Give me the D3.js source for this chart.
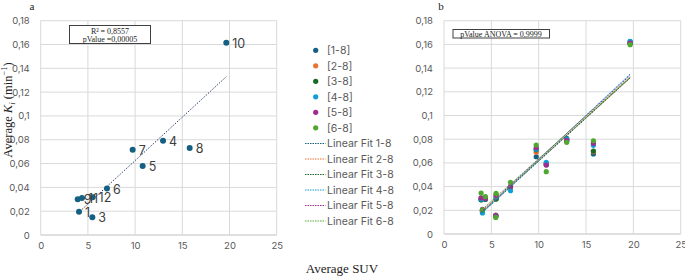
<!DOCTYPE html>
<html>
<head>
<meta charset="utf-8">
<script src="https://cdn.jsdelivr.net/npm/d3@7/dist/d3.min.js"></script>
<style>
  body { margin: 0; background: #fff; }
  svg { display: block; }
  .tick text { font-family: Inter, "Liberation Sans", sans-serif; }
</style>
</head>
<body>
<svg id="chart" width="685" height="276"></svg>
<script>
// patient ids (label order), average SUV (x) and average Ki (y) for panel a
const patientIds = ['1', '3', '4', '5', '6', '7', '8', '9', '10', '11', '12'];
const avgSuv = [4.06, 5.47, 12.96, 10.8, 7.02, 9.74, 15.78, 3.92, 19.66, 4.37, 5.5];
const avgKi = [0.0196, 0.0149, 0.0792, 0.058, 0.039, 0.0716, 0.073, 0.030, 0.1614, 0.031, 0.0317];

// panel b: Ki per frame range, same patients
const rangeNames = ['[1-8]', '[2-8]', '[3-8]', '[4-8]', '[5-8]', '[6-8]'];
const fitNames = ['Linear Fit 1-8', 'Linear Fit 2-8', 'Linear Fit 3-8', 'Linear Fit 4-8', 'Linear Fit 5-8', 'Linear Fit 6-8'];
const ki18 = [0.0195, 0.0155, 0.0808, 0.0595, 0.0390, 0.0652, 0.0675, 0.0290, 0.1623, 0.0292, 0.0298];
const ki28 = [0.0200, 0.0160, 0.0795, 0.0590, 0.0395, 0.0690, 0.0695, 0.0300, 0.1615, 0.0300, 0.0330];
const ki38 = [0.0195, 0.0150, 0.0792, 0.0585, 0.0400, 0.0710, 0.0700, 0.0288, 0.1610, 0.0295, 0.0295];
const ki48 = [0.0178, 0.0158, 0.0800, 0.0605, 0.0365, 0.0715, 0.0748, 0.0295, 0.1625, 0.0298, 0.0312];
const ki58 = [0.0207, 0.0155, 0.0790, 0.0582, 0.0403, 0.0728, 0.0765, 0.0305, 0.1610, 0.0300, 0.0325];
const ki68 = [0.0203, 0.0140, 0.0774, 0.0526, 0.0436, 0.0751, 0.0787, 0.0346, 0.1598, 0.0315, 0.0343];
const rangeKi = [ki18, ki28, ki38, ki48, ki58, ki68];

const xTicks = [0, 5, 10, 15, 20, 25];
const yTicks = [0, 0.02, 0.04, 0.06, 0.08, 0.1, 0.12, 0.14, 0.16, 0.18];

const colors = ['#156082', '#E97132', '#196B24', '#0F9ED5', '#A02B93', '#4EA72E'];
const fmt = v => String(+v.toFixed(2)).replace('.', ',');

const svg = d3.select('#chart');

// least squares fit
function linFit(xs, ys) {
  const mx = d3.mean(xs), my = d3.mean(ys);
  const sxy = d3.sum(xs, (x, i) => (x - mx) * (ys[i] - my));
  const sxx = d3.sum(xs, x => (x - mx) * (x - mx));
  const b = sxy / sxx;
  return x => my + b * (x - mx);
}

function drawPanel(left, right, top, bottom) {
  const x = d3.scaleLinear().domain([0, 25]).range([left, right]);
  const y = d3.scaleLinear().domain([0, 0.18]).range([bottom, top]);
  const g = svg.append('g');

  g.append('g').selectAll('line.h').data(yTicks).join('line')
    .attr('x1', left).attr('x2', right)
    .attr('y1', d => y(d)).attr('y2', d => y(d))
    .attr('stroke', d => d === 0 ? '#bfbfbf' : '#d9d9d9').attr('stroke-width', 1);
  g.append('g').selectAll('line.v').data(xTicks).join('line')
    .attr('x1', d => x(d)).attr('x2', d => x(d))
    .attr('y1', top).attr('y2', bottom)
    .attr('stroke', '#d9d9d9').attr('stroke-width', 1);

  const xAxis = g.append('g').attr('transform', `translate(0,${bottom + 4})`)
    .call(d3.axisBottom(x).tickValues(xTicks).tickSize(0).tickFormat(d3.format('d')));
  const yAxis = g.append('g').attr('transform', `translate(${left - 8},0)`)
    .call(d3.axisLeft(y).tickValues(yTicks).tickSize(0).tickFormat(fmt));
  [xAxis, yAxis].forEach(a => {
    a.select('.domain').remove();
    a.selectAll('text').attr('fill', '#595959').style('font-size', '9.5px');
  });
  return { x, y, g };
}

// ---- panel a
const pa = drawPanel(40.7, 276.7, 20.7, 235);
const fitA = linFit(avgSuv, avgKi);
const [xa0, xa1] = d3.extent(avgSuv);
pa.g.append('line')
  .attr('x1', pa.x(xa0)).attr('y1', pa.y(fitA(xa0)))
  .attr('x2', pa.x(xa1)).attr('y2', pa.y(fitA(xa1)))
  .attr('stroke', '#2b3f6b').attr('stroke-width', 1).attr('stroke-dasharray', '1.5,1.5');
pa.g.selectAll('circle.pt').data(avgSuv).join('circle')
  .attr('cx', d => pa.x(d)).attr('cy', (d, i) => pa.y(avgKi[i]))
  .attr('r', 3).attr('fill', colors[0]);
pa.g.selectAll('text.lbl').data(avgSuv).join('text')
  .attr('x', d => pa.x(d) + 6).attr('y', (d, i) => pa.y(avgKi[i]) + 5)
  .attr('font-family', 'Inter, "Liberation Sans", sans-serif').attr('font-size', 12.5)
  .attr('fill', '#404040').text((d, i) => patientIds[i]);

pa.g.append('rect').attr('x', 69.5).attr('y', 25.5).attr('width', 81).attr('height', 18)
  .attr('fill', '#fff').attr('stroke', '#404040').attr('stroke-width', 1);
const statA = pa.g.append('text').attr('font-family', '"Liberation Serif", serif')
  .attr('font-size', 8).attr('fill', '#222').attr('text-anchor', 'middle');
statA.append('tspan').attr('x', 110).attr('y', 33.5).text('R² = 0,8557');
statA.append('tspan').attr('x', 110).attr('y', 41.5).text('pValue =0,00005');

svg.append('text').attr('x', 32).attr('y', 10).attr('font-family', '"Liberation Serif", serif')
  .attr('font-size', 11).attr('fill', '#222').attr('text-anchor', 'middle').text('a');

const yTitle = svg.append('text').attr('transform', 'translate(12,110) rotate(-90)')
  .attr('text-anchor', 'middle').attr('font-family', '"Liberation Serif", serif')
  .attr('font-size', 12.5).attr('fill', '#222');
yTitle.append('tspan').text('Average ');
yTitle.append('tspan').attr('font-style', 'italic').text('K');
yTitle.append('tspan').attr('font-style', 'italic').attr('font-size', 9).attr('dy', 3).text('i');
yTitle.append('tspan').attr('dy', -3).text(' (min');
yTitle.append('tspan').attr('font-size', 8.5).attr('dy', -5).text('−1');
yTitle.append('tspan').attr('dy', 5).text(')');

// ---- legend
const legend = svg.append('g').attr('font-family', 'Inter, "Liberation Sans", sans-serif')
  .attr('font-size', 10.5).attr('fill', '#595959');
rangeNames.forEach((name, i) => {
  const ly = 50.3 + i * 15.5;
  legend.append('circle').attr('cx', 315.7).attr('cy', ly).attr('r', 2.6).attr('fill', colors[i]);
  legend.append('text').attr('x', 327).attr('y', ly + 3.8).text(name);
});
fitNames.forEach((name, i) => {
  const ly = 143.5 + i * 15.5;
  legend.append('line').attr('x1', 305).attr('x2', 325.5).attr('y1', ly).attr('y2', ly)
    .attr('stroke', colors[i]).attr('stroke-width', 1).attr('stroke-dasharray', '1.5,1');
  legend.append('text').attr('x', 327).attr('y', ly + 3.8).text(name);
});

svg.append('text').attr('x', 342).attr('y', 273).attr('text-anchor', 'middle')
  .attr('font-family', '"Liberation Serif", serif').attr('font-size', 13).attr('fill', '#222')
  .text('Average SUV');

// ---- panel b
const pb = drawPanel(444, 680.7, 20.7, 234);
rangeKi.forEach((ks, s) => {
  pb.g.append('g').selectAll('circle').data(avgSuv).join('circle')
    .attr('cx', d => pb.x(d)).attr('cy', (d, i) => pb.y(ks[i]))
    .attr('r', 2.6).attr('fill', colors[s]);
});
rangeKi.forEach((ks, s) => {
  const f = linFit(avgSuv, ks);
  pb.g.append('line')
    .attr('x1', pb.x(xa0)).attr('y1', pb.y(f(xa0)))
    .attr('x2', pb.x(xa1)).attr('y2', pb.y(f(xa1)))
    .attr('stroke', colors[s]).attr('stroke-width', 1).attr('stroke-dasharray', '1.5,1');
});
pb.g.append('rect').attr('x', 453).attr('y', 29.5).attr('width', 96.5).attr('height', 8.5)
  .attr('fill', '#fff').attr('stroke', '#404040').attr('stroke-width', 1);
pb.g.append('text').attr('x', 501).attr('y', 36.5).attr('text-anchor', 'middle')
  .attr('font-family', '"Liberation Serif", serif').attr('font-size', 8).attr('fill', '#222')
  .text('pValue ANOVA = 0,9999');
svg.append('text').attr('x', 441).attr('y', 10).attr('font-family', '"Liberation Serif", serif')
  .attr('font-size', 11).attr('fill', '#222').attr('text-anchor', 'middle').text('b');
</script>
</body>
</html>
